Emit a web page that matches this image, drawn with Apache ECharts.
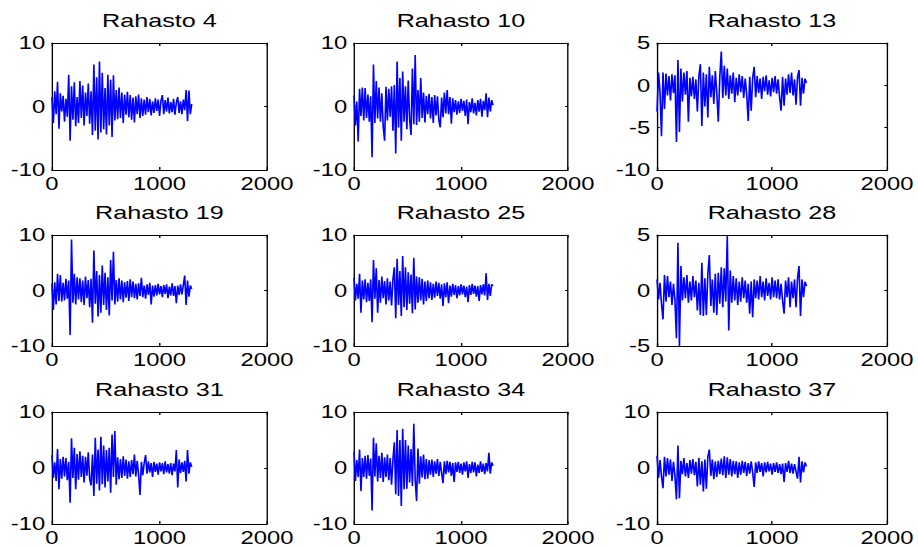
<!DOCTYPE html>
<html>
<head>
<meta charset="utf-8">
<title>Rahastot</title>
<script src="https://cdn.jsdelivr.net/npm/echarts@6/dist/echarts.min.js"></script>
<style>
  html, body { margin: 0; padding: 0; background: #fff; overflow: hidden; }
  /* The figure is laid out on a narrower canvas and widened horizontally,
     which gives the broad, stretched lettering of the exported figure. */
  #chart { width: 675px; height: 548px; transform: scaleX(1.36); transform-origin: 0 0; }
</style>
</head>
<body>
<div id="chart"></div>
<script>
// Panel titles and axis settings, in row-major order (3 x 3).
const panelTitles = ['Rahasto 4', 'Rahasto 10', 'Rahasto 13',
                     'Rahasto 19', 'Rahasto 25', 'Rahasto 28',
                     'Rahasto 31', 'Rahasto 34', 'Rahasto 37'];
const yMin  = [-10, -10, -10, -10, -10, -5, -10, -10, -10];
const yMax  = [10, 10, 5, 10, 10, 5, 10, 10, 10];
const yStep = [10, 10, 5, 10, 10, 5, 10, 10, 10];
const xMin = 0, xMax = 2000, xStep = 1000;

// Returns sampled every 13th observation (observation number = index * 13).
const sampleSpacing = 13;

const rahasto4 = [1.5, -2.6, 2.4, -1.2, 3.9, -3.5, 2.1, -0.8, 1.7, -2.4, 1.2, -1.6,
  5.0, -5.4,
  3.2, -2.1, 3.8, -3.1, 1.5, -2.6, 4.0, -1.8, 3.3, -3.0, 2.2, -1.5, 3.6, -2.7,
  2.4, -4.5, 6.6, -3.8, 4.6, -5.2, 7.1, -4.1, 5.3, -3.6, 2.9, -4.4, 5.0, -3.0, 4.2, -4.8, 4.9, -2.2,
  2.6, -2.0, 3.0, -1.8, 2.2, -2.6, 1.9, -1.3, 2.3,
  -1.7, 1.8, -2.1, 1.4, -2.5, 1.6, -1.2, 1.9, -1.8, 1.3, -1.5, 1.1,
  -1.3, 1.5, -0.9, 1.2, -1.4, 0.8, -1.0, 1.3, -0.7, 1.1, -1.5, 0.9, 1.8, -1.2, 1.0, -0.8, 1.4, -1.1, 0.7, -0.9, 1.2, -1.3, 0.6, 1.5, -1.0, 0.8, -1.2, 1.1, -0.6,
  2.6, -2.3, 2.5, -1.2, 0.4];

const rahasto10 = [1.7, -3.0, 0.8, -5.5,
  2.8, -1.5, 3.0, -2.2, 2.9,
  -1.8, 1.9, -2.4, 1.6,
  -8.0, 6.6,
  -2.6, 4.0, -1.9, 3.0, -2.4, 2.1, -3.2,
  -5.4,
  3.1, -2.2, 2.8, -1.6, 3.2, -3.8,
  3.4, -7.4,
  7.1,
  -3.3, 4.5, -5.4, 5.5,
  -2.4, 3.2, -3.6, 4.1, -2.0, -4.5,
  6.0, -2.8, 8.1, -2.9,
  2.6, -2.4, 4.5,
  -1.8, 2.2, -2.5, 1.7, -1.2, 2.0, -1.9, 1.5, -2.6, 1.8, -1.4, 1.6, -2.1,
  -3.3,
  1.4, -1.7, 2.2, -1.1, 2.6,
  -1.2, 1.5, -2.7, 1.3, -0.9,
  1.0, -1.3, 0.8, -1.0, 1.2, -0.7, 0.9, -1.5, 1.1, -2.8, 0.7, -0.9, 1.3, -1.1, 0.6, -1.4, 1.0, -0.8, 1.2, -1.6, 0.9, -0.6,
  2.1, -1.7, 1.4, -0.8, 1.0, 0.2];

const rahasto13 = [-3.1, 1.5, -0.8,
  -6.0,
  1.5, -2.8, 1.4,
  -1.2, 1.1, -1.8, 1.3, -0.9, 1.2,
  -6.7, 3.0,
  -5.5,
  2.0, -1.9, 1.5, -1.1, 1.7, -4.3,
  0.9, -1.3, 1.0, -1.6, 0.7, -3.1, 1.1,
  2.5, -4.8,
  1.5, -2.5, 1.3, -3.8, 2.2,
  -1.4, 1.2, -2.2, 1.7, -1.0, -4.3,
  1.0, 4.0,
  -1.5, 2.3, -1.2, 2.0, -1.6,
  1.2, -1.0, 1.5, -2.0, 0.9, -1.2, 1.3, -0.8, 1.1, -1.5, 0.8, -1.1,
  -4.2,
  1.0, -3.0, 0.9,
  2.2, -1.4,
  1.1, -0.9, 0.8, -1.6, 1.0, -0.7, 1.2, -1.1, 0.6, -1.3, 0.9, -0.8, 1.1, -1.0, 0.7, -1.4,
  -3.0,
  1.0, -2.4, 0.8, -1.1, 1.3, -0.9, 1.5, -1.2, 0.7,
  -2.3, 1.0, 1.8, -2.4,
  0.9, -1.0, 0.8, 0.3];

const rahasto19 = [1.2, -3.5, 1.5, -2.5,
  3.0, -1.9, 2.8, -2.0, 1.4,
  -1.8, 2.1, -1.5, 1.8,
  -8.0, 9.2,
  -2.2, 3.0, -2.5, 2.4, -1.6, 2.2, -2.1, 1.8, -2.6, 2.5, -1.4, 1.9, -3.0,
  2.1, -5.8, 7.2,
  -2.4, 3.5, -4.7, 2.8, -4.0,
  4.5, -2.6, 3.2, -3.5, 2.4, -4.5,
  5.5, -1.8, 7.0, -2.5,
  1.9, -2.0, 2.2, -1.6, 1.8, -2.1, 1.5, -1.3, 1.7, -1.9, 2.0, -1.2,
  1.6, -1.4, 1.2, -1.6, 1.3, -1.0, 2.3, -1.2, 0.9, -1.5, 1.1, -0.8, 1.4, -2.5, 0.9, -1.1, 1.0,
  -0.9, 1.2, -0.7, 0.8, -1.2, 1.0, -0.6, 1.1, -1.4, 0.7, -0.9, 1.3, -1.0, 0.8, -2.3, 0.9, -0.8, 1.1, -0.7, 1.0,
  2.7, -2.6, 1.8, -1.1, 0.9, 0.3];

const rahasto25 = [2.3, -1.8, 1.2, -1.5,
  3.0, -4.0,
  1.8, -1.6, 2.0, -2.1, 1.4, -1.9, 2.0,
  -5.7, 5.5,
  -1.5, 4.0, -4.0,
  1.9, -2.2, 2.5, -1.4, 1.7, -2.5, 2.2, -1.8, 1.6, -2.7, 2.0,
  4.2, -5.0,
  5.7,
  -2.6, 3.5, -4.6,
  6.2,
  -3.0, 4.2, -3.5, 3.3, -2.4, 2.9,
  -4.1, 5.9, -3.4,
  2.5, -2.2, 2.4, -1.8, 2.1, -2.5, 1.6, -1.9,
  1.8, -1.4, 1.5, -1.7, 1.2, -1.3, 1.6, -1.0, 1.4, -1.5, 1.1, -2.8,
  1.3, -1.2, 1.5, -2.3, 0.9, -1.1, 1.2, -0.8, 1.0, -1.4,
  0.8, -0.9, 1.1, -0.7, 0.9, -1.2, 0.7, -2.1, 1.0, -0.8, 1.2, -0.6, 0.9, -1.1, 0.8, -1.9, 1.0, -0.7, 1.1, -0.9,
  3.1, -1.7, 1.2, -1.0, 1.1, 0.8];

const rahasto28 = [1.0, -0.8, 0.7, -1.2,
  -2.6,
  1.4, -1.0, 1.3, -0.6,
  0.8, -1.3, 0.6, -0.9,
  -4.3, 4.3, -5.0,
  2.2,
  -0.9, 1.2, -0.7, 1.4, -1.1, 0.8, -0.9, 1.3, -0.6, 0.9,
  -1.8, 0.7, -2.2,
  2.5, -2.3,
  1.1, -2.2, 1.5,
  3.2,
  -1.4, 1.0, -2.0, 1.5, -2.2,
  1.6, -1.2, 2.1, -1.5, 2.0,
  -1.0, 4.9,
  -3.6,
  1.8, -1.1,
  1.3, -0.9, 1.1, -1.3, 0.8, -1.0, 1.2, -0.7, 0.9, -1.1, 0.6,
  -2.1,
  0.8, -2.4,
  1.0, -0.7, 0.9, -0.8, 1.3, -0.6, 0.8, -0.9, 1.1, -0.5, 0.7, -0.8, 1.2, -0.6, 0.9, -0.7, 1.0, -0.8, 0.6, -0.9,
  -2.1,
  0.9, -0.6, 1.2, -1.5, 0.8, -0.7, 1.0,
  -1.5, 1.1, 2.2, -2.3,
  1.0, -0.6, 0.8, 0.4];

const rahasto31 = [2.3, -1.8, 1.0, -2.3,
  3.4, -3.8,
  1.6, -1.9, 2.0, -1.5, 1.8, -2.2, 1.1,
  -6.2, 5.3,
  -1.8, 3.6,
  -3.8,
  2.5, -2.1, 3.0, -1.6, 2.2, -2.6, 2.0, -1.4, 2.8, -2.0,
  -3.1,
  2.4, -5.0,
  5.4,
  -2.8, 3.3, -4.0,
  5.6,
  -2.9, 4.0, -3.5, 3.2, -2.4, 3.6,
  -4.4, 6.0, -1.6, 6.6,
  -3.0, 1.9, -2.0, 1.6, -1.8, 2.1, -1.4, 1.5, -1.9, 1.2, -1.6, 1.4, -1.1, 2.4,
  -1.5, 1.3, -1.2,
  -4.8,
  1.1, -1.3, 0.9, 2.3,
  -1.0, 1.2, -0.8, 0.9, -1.6, 1.1, -0.7, 0.8, -1.2, 1.0, -0.6, 0.9, -1.1, 1.2, -0.8, 0.7, -1.0, 0.9, -1.3, 0.8, -0.6,
  3.2, -3.5,
  1.5, -0.9, 1.0, -0.7, 1.3,
  -2.4,
  3.2,
  -1.0, 1.0, 0.2];

const rahasto34 = [2.9, -2.3, 1.4, -1.6,
  3.3, -4.1,
  1.8, -1.6, 2.2, -1.9, 2.3, -1.4, 1.7,
  -7.6, 5.4,
  -1.5, 4.4, -2.4,
  2.2, -1.8, 2.7, -2.5, 1.9, -1.6, 2.4, -2.2, 1.8,
  -3.0,
  1.5, 4.6, -4.7, 6.8, -5.0, 5.0, -6.8, 7.0, -3.8,
  5.0, -3.7, 4.0, -2.6, 3.4,
  -3.2, 7.9, -2.1, -5.9,
  3.5, -2.8, 2.1, -1.7, 2.4, -2.0, 1.6, -1.9, 1.4,
  -1.2, 1.5, -1.6, 1.2, -1.0, 1.6, -1.4, 1.1, -0.9, -2.7,
  1.2, -1.1, 1.3, -0.8, 1.1, -1.4, 0.9, -2.5, 1.0, -0.7,
  1.1, -0.9, 0.8, -1.2, 1.0, -0.6, 1.2, -1.8, 0.7, -0.9, 1.1, -0.8, 1.0, -1.5, 0.6, -0.9, 1.2, -0.7, 0.8, -1.1, 0.9,
  -0.6, 2.7,
  -1.0, 1.0, 0.4];

const rahasto37 = [2.2, -1.8, 1.4, -1.5,
  -3.6,
  2.0, -1.5, 1.8, -1.2,
  1.5, -2.3, 1.1, -1.4,
  -5.6, 4.0, -5.4,
  1.3, -1.1, 1.8, -1.5, 0.9, -1.8, 1.4, -1.0, 1.6, -1.3, 1.1,
  -3.3,
  1.8, -3.0, 1.2,
  -4.2,
  1.5, -3.7,
  2.0, 3.3,
  -1.4, 1.5, -2.0, 1.2, -1.6, 1.3, -1.1, 1.7, -1.3,
  2.1, -1.8, 1.9, -1.2, 1.6, -1.5,
  1.3, -1.1, 1.2, -1.8, 1.0, -1.2, 1.3, -0.9, 1.1, -1.4, 0.9, -1.0, 1.2, -0.8,
  -3.4,
  1.0, -0.9, 1.2, -0.7, 0.9, -1.5, 1.0, -0.8, 1.1, -0.6, 0.8, -1.2, 0.9, -0.7, 1.0, -0.9, 0.7, -1.1, 0.8, -2.5, 0.9,
  -0.7, 1.3, -0.9, 0.8, -1.0, 0.7, -0.6,
  -1.9, 2.0, -2.6,
  1.2, -0.8, 1.0, 0.3];

const panelSeries = [rahasto4, rahasto10, rahasto13,
                     rahasto19, rahasto25, rahasto28,
                     rahasto31, rahasto34, rahasto37];

// Plot-box geometry (pre-stretch pixels): three columns, three rows.
const colLeft  = [38.2, 260.3, 483.1];
const colWidth = [158.1, 157.3, 169.1];
const rowTop    = [43, 235, 412];
const rowHeight = [127, 111, 112];

const FONT = "'Liberation Sans', Arial, Helvetica, sans-serif";
const black = '#000000';
const plain = function (v) { return String(v); };

const grids = [], xAxes = [], yAxes = [], series = [];

panelTitles.forEach(function (title, k) {
  const r = Math.floor(k / 3), c = k % 3;
  grids.push({
    left: colLeft[c], top: rowTop[r], width: colWidth[c], height: rowHeight[r],
    containLabel: false, show: false
  });
  const axisLine = { show: true, onZero: false, lineStyle: { color: black, width: 1 } };
  // bottom x axis with labels
  xAxes.push({
    gridIndex: k, type: 'value', position: 'bottom',
    min: xMin, max: xMax, interval: xStep,
    axisLine: axisLine,
    axisTick: { show: true, inside: true, length: 3, lineStyle: { color: black, width: 1 } },
    axisLabel: { show: true, color: black, fontSize: 17.5, fontFamily: FONT, margin: 5, formatter: plain },
    splitLine: { show: false }
  });
  // top x axis: closes the box and carries the panel title
  xAxes.push({
    gridIndex: k, type: 'value', position: 'top',
    min: xMin, max: xMax, interval: xStep,
    name: title, nameLocation: 'middle', nameGap: 13,
    nameTextStyle: { color: black, fontSize: 18.5, fontFamily: FONT },
    axisLine: axisLine,
    axisTick: { show: true, inside: true, length: 3, lineStyle: { color: black, width: 1 } },
    axisLabel: { show: false },
    splitLine: { show: false }
  });
  // left y axis with labels
  yAxes.push({
    gridIndex: k, type: 'value', position: 'left',
    min: yMin[k], max: yMax[k], interval: yStep[k],
    axisLine: axisLine,
    axisTick: { show: true, inside: true, length: 2, lineStyle: { color: black, width: 1 } },
    axisLabel: { show: true, color: black, fontSize: 17.5, fontFamily: FONT, margin: 5, formatter: plain },
    splitLine: { show: false }
  });
  // right y axis: closes the box
  yAxes.push({
    gridIndex: k, type: 'value', position: 'right',
    min: yMin[k], max: yMax[k], interval: yStep[k],
    axisLine: axisLine,
    axisTick: { show: true, inside: true, length: 2, lineStyle: { color: black, width: 1 } },
    axisLabel: { show: false },
    splitLine: { show: false }
  });
  series.push({
    type: 'line',
    xAxisIndex: 2 * k, yAxisIndex: 2 * k,
    data: panelSeries[k].map(function (v, i) { return [i * sampleSpacing, v]; }),
    showSymbol: false, symbol: 'none', silent: true,
    lineStyle: { color: '#0000ff', width: 1.2 }
  });
});

const chart = echarts.init(document.getElementById('chart'), null, { renderer: 'svg' });
chart.setOption({
  animation: false,
  backgroundColor: '#ffffff',
  grid: grids,
  xAxis: xAxes,
  yAxis: yAxes,
  series: series
});
</script>
</body>
</html>
